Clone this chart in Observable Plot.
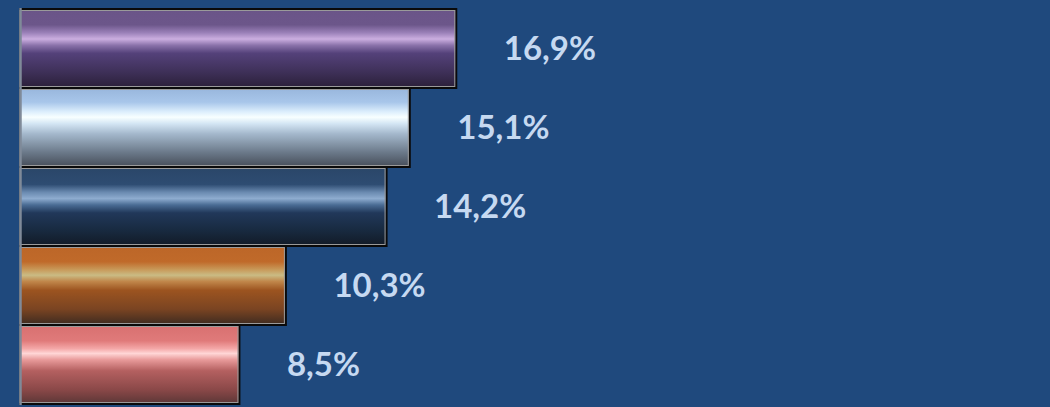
<!DOCTYPE html>
<html>
<head>
<meta charset="utf-8">
<script src="https://cdn.jsdelivr.net/npm/d3@7"></script>
<script src="https://cdn.jsdelivr.net/npm/@observablehq/plot@0.6"></script>
<style>
html,body{margin:0;padding:0;background:#1F497D;overflow:hidden;}
#chart svg{display:block;}
</style>
</head>
<body>
<div id="chart"></div>
<script>
const categories = ["Cat 1", "Cat 2", "Cat 3", "Cat 4", "Cat 5"];
const values = [16.9, 15.1, 14.2, 10.3, 8.5];
const labels = ["16,9%", "15,1%", "14,2%", "10,3%", "8,5%"];
const gradients = [
  [["0%","#6a5488"],["20%","#6c568a"],["30%","#9a80b8"],["38%","#cbaee0"],["46%","#8a72aa"],["56%","#54417a"],["80%","#3e3058"],["100%","#2a1f38"]],
  [["0%","#98b6dc"],["18%","#a8c6ea"],["30%","#dceefc"],["37%","#f8ffff"],["45%","#d4e6f4"],["58%","#a4b8cc"],["82%","#6a7888"],["100%","#454c58"]],
  [["0%","#2a4668"],["22%","#2e4c72"],["32%","#6a8ab0"],["40%","#8eaccf"],["48%","#4a6c94"],["58%","#21385a"],["80%","#182a40"],["100%","#121a26"]],
  [["0%","#bc6628"],["20%","#c06a2a"],["30%","#c89a5a"],["37%","#cabb84"],["45%","#c0864a"],["56%","#9c5420"],["80%","#7a4422"],["100%","#3c2a20"]],
  [["0%","#d87070"],["20%","#e07a7a"],["30%","#f4a8a8"],["36%","#ffd6d6"],["44%","#e89a9a"],["58%","#b46060"],["82%","#8a4848"],["100%","#5a3636"]]
];

const data = categories.map((c, i) => ({category: c, value: values[i], label: labels[i], grad: `url(#barGrad${i})`}));

const chart = Plot.plot({
  width: 1050,
  height: 407,
  marginLeft: 20,
  marginRight: 0,
  marginTop: 8,
  marginBottom: 2,
  style: {background: "#1F497D", overflow: "visible"},
  x: {domain: [0, 39.9], axis: null},
  y: {domain: categories, axis: null, padding: 0},
  color: {type: "identity"},
  marks: [
    Plot.barX(data, {x: "value", y: "category", fill: "grad", stroke: "#0a0a0a", strokeWidth: 2}),
    Plot.barX(data, {x: "value", y: "category", fill: "none", stroke: "#9a9a9a", strokeWidth: 1, insetTop: 1.5, insetRight: 1.5, insetBottom: 1.5, insetLeft: 0}),
    Plot.ruleX([0], {stroke: "#7f8a99", strokeWidth: 2.5}),
    Plot.text(data, {x: "value", y: "category", text: "label", dx: 47, textAnchor: "start", fill: "#c6d9f1", fontSize: 33, fontWeight: "bold", fontFamily: "Lato"})
  ]
});

const svgns = "http://www.w3.org/2000/svg";
const defs = document.createElementNS(svgns, "defs");
gradients.forEach((stops, i) => {
  const g = document.createElementNS(svgns, "linearGradient");
  g.setAttribute("id", `barGrad${i}`);
  g.setAttribute("x1", "0"); g.setAttribute("y1", "0");
  g.setAttribute("x2", "0"); g.setAttribute("y2", "1");
  stops.forEach(([o, c]) => {
    const s = document.createElementNS(svgns, "stop");
    s.setAttribute("offset", o);
    s.setAttribute("stop-color", c);
    g.appendChild(s);
  });
  defs.appendChild(g);
});
chart.insertBefore(defs, chart.firstChild);
document.getElementById("chart").appendChild(chart);
</script>
</body>
</html>
